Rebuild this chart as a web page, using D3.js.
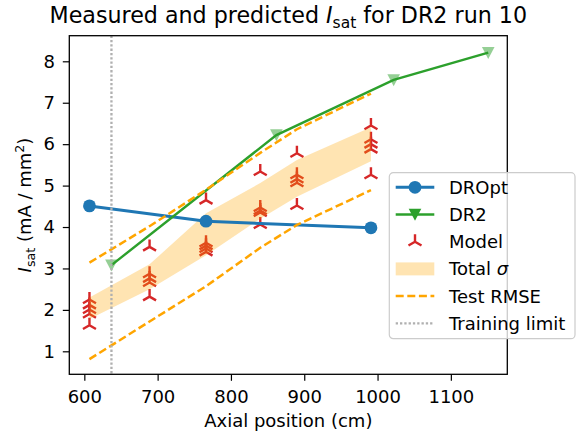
<!DOCTYPE html>
<html>
<head>
<meta charset="utf-8">
<script src="https://cdn.jsdelivr.net/npm/d3@7"></script>
<style>
  body { margin: 0; background: #fff; }
  svg { font-family: "DejaVu Sans", sans-serif; }
</style>
</head>
<body>
<div id="chart"></div>
<script>
// values
var droptX = [607, 766, 991];
var droptY = [4.51, 4.14, 3.98];

var dr2X = [637, 862, 1022, 1151];
var dr2Y = [3.08, 6.22, 7.55, 8.21];

var modelX = [607, 689, 766, 840, 890, 991];
var modelY = [
  [2.25, 2.12, 2.01, 1.90, 1.63],
  [3.52, 2.87, 2.76, 2.66, 2.32],
  [4.65, 3.62, 3.55, 3.48, 3.40],
  [5.34, 4.47, 4.40, 4.35, 4.06],
  [5.78, 5.26, 5.16, 5.07, 4.52],
  [6.45, 6.12, 6.00, 5.88, 5.26]
];

var sigmaLow  = [1.78, 2.50, 3.32, 4.20, 4.73, 5.59];
var sigmaHigh = [2.30, 3.10, 4.33, 5.06, 5.62, 6.41];

var rmseLow  = [0.81, 1.72, 2.57, 3.50, 4.05, 4.89];
var rmseHigh = [3.14, 4.02, 4.90, 5.79, 6.36, 7.22];

var trainingLimit = 637;

var xTicks = [600, 700, 800, 900, 1000, 1100];
var yTicks = [1, 2, 3, 4, 5, 6, 7, 8];

var legendLabels = ["DROpt", "DR2", "Model", "Total \u03c3", "Test RMSE", "Training limit"];

(function() {
  var margin = { top: 35.7, left: 69.3, right: 70.7, bottom: 57.7 },
      width = 578 - margin.left - margin.right,
      height = 432 - margin.top - margin.bottom;

  var blue = "#1f77b4", green = "#2ca02c", red = "#d62728", orange = "#ffa500", grey = "#b0b0b0";

  var root = d3.select("#chart")
      .append("svg")
      .attr("width", 578)
      .attr("height", 432);

  var svg = root.append("g")
      .attr("transform", "translate(" + margin.left + "," + margin.top + ")");

  var xScale = d3.scaleLinear().domain([579.5, 1177]).range([0, width]);
  var yScale = d3.scaleLinear().domain([0.445, 8.618]).range([height, 0]);

  var triUp = "M0,0L0,-7.5M0,0L-6.5,3.75M0,0L6.5,3.75";
  var triDown = "M-6.3,-5.7L6.3,-5.7L0,6.3Z";

  var plot = svg.append("g");

  // model predictions (sit under the sigma band)
  var modelPts = [];
  modelX.forEach(function(x, i) {
    modelY[i].forEach(function(v) { modelPts.push({ x: x, y: v }); });
  });
  plot.selectAll(".model")
    .data(modelPts)
    .enter().append("path")
    .attr("class", "model")
    .attr("d", triUp)
    .attr("transform", function(d) { return "translate(" + xScale(d.x) + "," + yScale(d.y) + ")"; })
    .attr("fill", "none")
    .attr("stroke", red)
    .attr("stroke-width", 2.4);

  // total sigma band
  var band = modelX.map(function(x, i) { return { x: x, lo: sigmaLow[i], hi: sigmaHigh[i] }; });
  plot.append("path")
    .datum(band)
    .attr("d", d3.area()
      .x(function(d) { return xScale(d.x); })
      .y0(function(d) { return yScale(d.lo); })
      .y1(function(d) { return yScale(d.hi); }))
    .attr("fill", orange)
    .attr("fill-opacity", 0.3);

  var line = d3.line()
    .x(function(d) { return xScale(d[0]); })
    .y(function(d) { return yScale(d[1]); });

  // DROpt
  var dropt = d3.zip(droptX, droptY);
  plot.append("path")
    .attr("d", line(dropt))
    .attr("fill", "none")
    .attr("stroke", blue)
    .attr("stroke-width", 3);
  plot.selectAll(".dropt")
    .data(dropt)
    .enter().append("circle")
    .attr("cx", function(d) { return xScale(d[0]); })
    .attr("cy", function(d) { return yScale(d[1]); })
    .attr("r", 6.4)
    .attr("fill", blue);

  // DR2
  var dr2 = d3.zip(dr2X, dr2Y);
  plot.append("path")
    .attr("d", line(dr2))
    .attr("fill", "none")
    .attr("stroke", green)
    .attr("stroke-width", 2.4);
  plot.selectAll(".dr2")
    .data(dr2)
    .enter().append("path")
    .attr("d", triDown)
    .attr("transform", function(d) { return "translate(" + xScale(d[0]) + "," + yScale(d[1]) + ")"; })
    .attr("fill", green)
    .attr("fill-opacity", 0.5);

  // test RMSE
  [rmseLow, rmseHigh].forEach(function(arr) {
    plot.append("path")
      .attr("d", line(d3.zip(modelX, arr)))
      .attr("fill", "none")
      .attr("stroke", orange)
      .attr("stroke-width", 2.5)
      .attr("stroke-dasharray", "8,3.6");
  });

  // training limit
  plot.append("line")
    .attr("x1", xScale(trainingLimit)).attr("x2", xScale(trainingLimit))
    .attr("y1", 0).attr("y2", height)
    .attr("stroke", grey)
    .attr("stroke-width", 2.3)
    .attr("stroke-dasharray", "2.3,2");

  // axes
  var xAxis = d3.axisBottom(xScale).tickValues(xTicks).tickFormat(d3.format("d"))
    .tickSize(6.5).tickPadding(9.5);
  var gx = svg.append("g")
    .attr("class", "axis x-axis")
    .attr("transform", "translate(0," + height + ")")
    .call(xAxis);

  var yAxis = d3.axisLeft(yScale).tickValues(yTicks).tickFormat(d3.format("d"))
    .tickSize(6.5).tickPadding(7.8);
  var gy = svg.append("g")
    .attr("class", "axis y-axis")
    .call(yAxis);

  [gx, gy].forEach(function(g) {
    g.select(".domain").remove();
    g.selectAll("line").attr("stroke", "#000").attr("stroke-width", 1.2);
    g.selectAll("text").attr("fill", "#000").style("font-size", "18px")
      .style("font-family", "DejaVu Sans");
  });

  svg.append("rect")
    .attr("width", width)
    .attr("height", height)
    .attr("fill", "none")
    .attr("stroke", "#000")
    .attr("stroke-width", 1.3);

  // axis labels and title
  root.append("text")
    .attr("x", margin.left + width / 2)
    .attr("y", 427)
    .attr("text-anchor", "middle")
    .style("font-size", "18px")
    .text("Axial position (cm)");

  var yl = root.append("text")
    .attr("transform", "translate(31," + (margin.top + height / 2) + ") rotate(-90)")
    .attr("text-anchor", "middle")
    .style("font-size", "18px");
  yl.append("tspan").attr("font-style", "italic").text("I");
  yl.append("tspan").attr("dy", 4).style("font-size", "12.6px").text("sat");
  yl.append("tspan").attr("dy", -4).text(" (mA / mm");
  yl.append("tspan").attr("dy", -7).style("font-size", "12.6px").text("2");
  yl.append("tspan").attr("dy", 7).text(")");

  var title = root.append("text")
    .attr("x", margin.left + width / 2)
    .attr("y", 23)
    .attr("text-anchor", "middle")
    .style("font-size", "22.2px");
  title.append("tspan").text("Measured and predicted ");
  title.append("tspan").attr("font-style", "italic").text("I");
  title.append("tspan").attr("dy", 4.9).style("font-size", "15.5px").text("sat");
  title.append("tspan").attr("dy", -4.9).text(" for DR2 run 10");

  // legend
  var lg = root.append("g").attr("transform", "translate(389.3,172.7)");
  lg.append("rect")
    .attr("width", 185.7)
    .attr("height", 166)
    .attr("rx", 4)
    .attr("fill", "#fff")
    .attr("fill-opacity", 0.8)
    .attr("stroke", "#cccccc")
    .attr("stroke-width", 1.2);

  var rowY = function(i) { return 14.6 + i * 27.2; };
  var hx0 = 6.4, hx1 = 45, hxm = (hx0 + hx1) / 2;

  var rows = lg.selectAll(".row")
    .data(legendLabels)
    .enter().append("g")
    .attr("transform", function(d, i) { return "translate(0," + rowY(i) + ")"; });

  rows.each(function(d, i) {
    var r = d3.select(this);
    if (i === 0 || i === 1) {
      r.append("line").attr("x1", hx0).attr("x2", hx1)
        .attr("stroke", i === 0 ? blue : green).attr("stroke-width", i === 0 ? 3 : 2.4);
      if (i === 0) r.append("circle").attr("cx", hxm).attr("r", 6.4).attr("fill", blue);
      else r.append("path").attr("d", triDown).attr("transform", "translate(" + hxm + ",0)").attr("fill", green);
    } else if (i === 2) {
      r.append("path").attr("d", triUp).attr("transform", "translate(" + hxm + ",0)")
        .attr("fill", "none").attr("stroke", red).attr("stroke-width", 2.4);
    } else if (i === 3) {
      r.append("rect").attr("x", hx0).attr("y", -6.5).attr("width", hx1 - hx0).attr("height", 13)
        .attr("fill", orange).attr("fill-opacity", 0.3);
    } else if (i === 4) {
      r.append("line").attr("x1", hx0).attr("x2", hx1)
        .attr("stroke", orange).attr("stroke-width", 2.5).attr("stroke-dasharray", "8,3.6");
    } else {
      r.append("line").attr("x1", hx0).attr("x2", hx1)
        .attr("stroke", grey).attr("stroke-width", 2.3).attr("stroke-dasharray", "2.3,2");
    }
    var t = r.append("text").attr("x", 59.7).attr("dy", "0.36em").style("font-size", "18px");
    if (i === 3) {
      t.append("tspan").text("Total ");
      t.append("tspan").attr("font-style", "italic").text("\u03c3");
    } else {
      t.text(d);
    }
  });
})();
</script>
</body>
</html>
